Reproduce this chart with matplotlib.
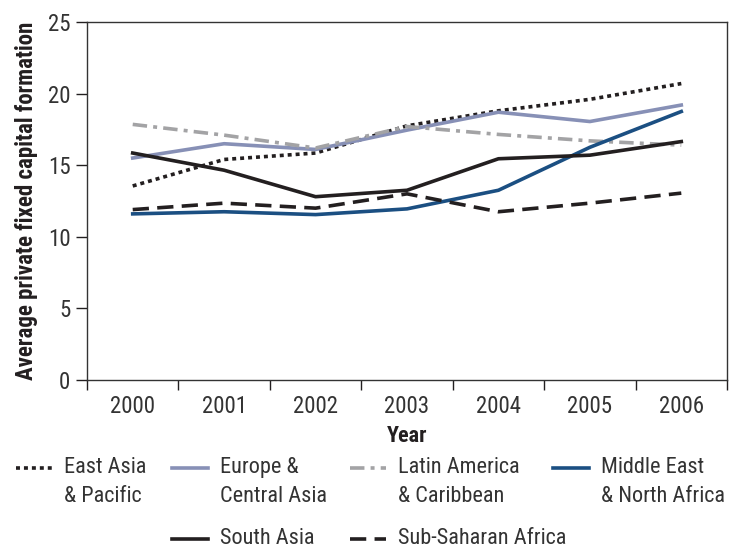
import matplotlib
matplotlib.use("Agg")
import matplotlib.pyplot as plt
from matplotlib.lines import Line2D
import numpy as np

plt.rcParams['font.family'] = ['Roboto Condensed', 'DejaVu Sans']

years = ["2000", "2001", "2002", "2003", "2004", "2005", "2006"]

east_asia = [13.55, 15.4, 15.85, 17.75, 18.8, 19.6, 20.7]
europe = [15.5, 16.5, 16.1, 17.45, 18.7, 18.05, 19.2]
latin_america = [17.85, 17.1, 16.2, 17.7, 17.15, 16.7, 16.4]
middle_east = [11.6, 11.75, 11.55, 11.95, 13.25, 16.25, 18.75]
south_asia = [15.85, 14.65, 12.8, 13.25, 15.45, 15.7, 16.65]
sub_saharan = [11.9, 12.35, 12.0, 13.0, 11.75, 12.35, 13.05]

region_labels = ["East Asia\n& Pacific", "Europe &\nCentral Asia",
                 "Latin America\n& Caribbean", "Middle East\n& North Africa",
                 "South Asia", "Sub-Saharan Africa"]

ink = "#231f20"
txt = "#333333"
lw = 2.6
W, H = 731, 549

fig = plt.figure(figsize=(W / 100, H / 100), dpi=100)
ax = fig.add_axes([87 / W, 1 - 380 / H, (727 - 87) / W, (380 - 22) / H])

x = np.arange(len(years))
styles = [
    dict(color=ink, dashes=(1.1, 1.1)),
    dict(color="#8790b6"),
    dict(color="#a3a3a5", dashes=(4, 1.7, 1.1, 1.7)),
    dict(color="#1b4f82"),
    dict(color=ink),
    dict(color=ink, dashes=(4.5, 2.3)),
]
series = [east_asia, europe, latin_america, middle_east, south_asia, sub_saharan]
for vals, st in zip(series, styles):
    ax.plot(x, vals, lw=lw, **st)

ax.set_xlim(-0.5, len(years) - 0.5)
ax.set_ylim(0, 25)
ax.set_yticks([0, 5, 10, 15, 20, 25])
ax.set_xticks(x)
ax.set_xticklabels(years)
ax.set_xticks(np.arange(-0.5, len(years), 1), minor=True)
ax.tick_params(axis='x', which='major', length=0, labelsize=16.5, labelcolor=txt, pad=11)
ax.tick_params(axis='x', which='minor', length=7, width=1, color=ink)
ax.tick_params(axis='y', length=8, width=1, labelsize=16.5, labelcolor=txt, color=ink, pad=4)
for s in ax.spines.values():
    s.set_color("#333333")
    s.set_linewidth(1)

ax.set_xlabel("Year", fontsize=16, fontweight='bold', color=ink, labelpad=5)
ax.set_ylabel("Average private fixed capital formation", fontsize=16.5,
              fontweight='bold', color=ink, labelpad=7)

# legend laid out by hand: 4 entries on top row, 2 underneath
slots = [(16, 468), (172, 468), (350, 468), (553, 468), (172, 539), (350, 539)]
for (px, py), st, lab in zip(slots, styles, region_labels):
    fy = 1 - py / H
    fig.add_artist(Line2D([px / W, (px + 36) / W], [fy, fy], lw=lw,
                          transform=fig.transFigure, **st))
    fig.text((px + 48) / W, 1 - (py - 11) / H, lab, fontsize=16, color=txt,
             va='top', ha='left', linespacing=1.5)

fig.savefig("out.png", dpi=100)
